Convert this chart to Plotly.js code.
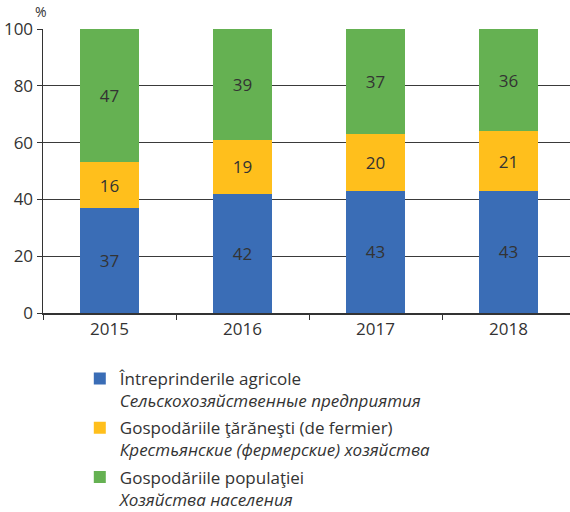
<!DOCTYPE html>
<html><head><meta charset="utf-8">
<script src="https://cdn.plot.ly/plotly-3.0.1.min.js"></script>
<style>body{margin:0;padding:0;background:#fff}#c{width:570px;height:512px}</style>
</head><body><div id="c"></div>
<script>
const years = ['2015', '2016', '2017', '2018'];
const enterprises = [37, 42, 43, 43];
const peasant = [16, 19, 20, 21];
const households = [47, 39, 37, 36];
const names = [
  'Întreprinderile agricole<br><i>Сельскохозяйственные предприятия</i>',
  'Gospodăriile ţărăneşti (de fermier)<br><i>Крестьянские (фермерские) хозяйства</i>',
  'Gospodăriile populaţiei<br><i>Хозяйства населения</i>'
];
const colors = ['#3a6db6', '#ffbf1c', '#65b152'];
const series = [enterprises, peasant, households];
const FONT = '"Open Sans", "Noto Sans", sans-serif';
const traces = series.map((vals, i) => ({
  type: 'bar', x: years, y: vals, name: names[i], legendgroup: 'g' + i,
  marker: {color: colors[i]}, width: 0.45,
  text: vals.map(String), textposition: 'inside', insidetextanchor: 'middle',
  textfont: {color: '#333', size: 17, family: FONT}, hoverinfo: 'skip'
}));
const layout = {
  width: 570, height: 512, barmode: 'stack',
  margin: {l: 43, r: 0, t: 29, b: 199, autoexpand: false},
  paper_bgcolor: '#fff', plot_bgcolor: '#fff',
  font: {family: FONT, size: 17, color: '#333'},
  xaxis: {type: 'category', range: [-0.5, 3.462], tickson: 'boundaries', ticks: 'outside',
    ticklen: 5, tickcolor: '#333', showline: true, linecolor: '#333', linewidth: 1.5,
    showgrid: false, tickangle: 0, tickfont: {size: 17, color: '#333'}, fixedrange: true},
  yaxis: {range: [0, 100], dtick: 20, ticks: 'outside', ticklen: 5, tickcolor: '#333',
    showline: true, linecolor: '#333', linewidth: 1.5, gridcolor: '#3a3a3a', gridwidth: 1,
    zeroline: false, tickfont: {size: 17, color: '#333'}, fixedrange: true},
  showlegend: true,
  legend: {xref: 'container', yref: 'container', x: 0.14, y: 0.295, xanchor: 'left', yanchor: 'top',
    traceorder: 'grouped', tracegroupgap: 2, valign: 'top',
    font: {size: 17, color: '#333', family: FONT}, bgcolor: 'rgba(0,0,0,0)'},
  annotations: [{xref: 'paper', yref: 'paper', x: -0.004, y: 1.06, xanchor: 'center', yanchor: 'middle',
    text: '%', showarrow: false, font: {size: 14, color: '#333'}}]
};
Plotly.newPlot('c', traces, layout, {staticPlot: true, displayModeBar: false});
</script></body></html>
